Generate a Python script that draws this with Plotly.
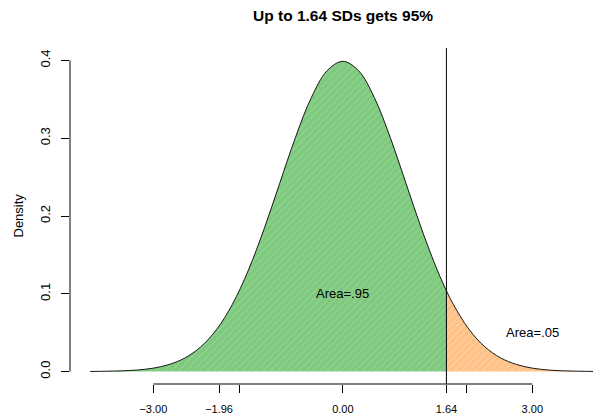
import plotly.graph_objects as go

# Standard normal density
x_vals = [-4.0, -3.75, -3.5, -3.25, -3.0, -2.75, -2.5, -2.25, -2.0, -1.75, -1.5, -1.25,
          -1.0, -0.75, -0.5, -0.25, 0.0, 0.25, 0.5, 0.75, 1.0, 1.25, 1.5, 1.64,
          1.75, 2.0, 2.25, 2.5, 2.75, 3.0, 3.25, 3.5, 3.75, 4.0]
density = [0.0001, 0.0004, 0.0009, 0.0020, 0.0044, 0.0091, 0.0175, 0.0317, 0.0540, 0.0863,
           0.1295, 0.1826, 0.2420, 0.3011, 0.3521, 0.3867, 0.3989, 0.3867, 0.3521, 0.3011,
           0.2420, 0.1826, 0.1295, 0.1040, 0.0863, 0.0540, 0.0317, 0.0175, 0.0091, 0.0044,
           0.0020, 0.0009, 0.0004, 0.0001]
cutoff = 1.64

x_tick_vals = [-3.0, -1.96, -1.64, 0.0, 1.64, 1.96, 3.0]
x_tick_text = ["\u22123.00", "\u22121.96", "", "0.00", "1.64", "", "3.00"]
y_tick_vals = [0.0, 0.1, 0.2, 0.3, 0.4]
y_tick_text = ["0.0", "0.1", "0.2", "0.3", "0.4"]

area_labels = ["Area=.95", "Area=.05"]
area_pos = [(0.0, 0.1), (3.0, 0.05)]

title_text = "Up to 1.64 SDs gets 95%"

GREEN = "#7FC97F"
ORANGE = "#FDC086"
FONT = "Liberation Sans, Arial, Helvetica, sans-serif"

left_x = [x for x in x_vals if x <= cutoff]
left_y = [y for x, y in zip(x_vals, density) if x <= cutoff]
right_x = [x for x in x_vals if x >= cutoff]
right_y = [y for x, y in zip(x_vals, density) if x >= cutoff]

fig = go.Figure()
fig.add_trace(go.Scatter(
    x=left_x, y=left_y, mode="lines", line=dict(width=0, shape="spline", color=GREEN),
    fill="tozeroy", fillcolor=GREEN,
    fillpattern=dict(shape="/", bgcolor=GREEN, fgcolor="#8CD08C", size=5, solidity=0.35, fgopacity=1),
    hoverinfo="skip", showlegend=False))
fig.add_trace(go.Scatter(
    x=right_x, y=right_y, mode="lines", line=dict(width=0, shape="spline", color=ORANGE),
    fill="tozeroy", fillcolor=ORANGE,
    fillpattern=dict(shape="/", bgcolor=ORANGE, fgcolor="#FFCC99", size=5, solidity=0.35, fgopacity=1),
    hoverinfo="skip", showlegend=False))
fig.add_trace(go.Scatter(
    x=x_vals, y=density, mode="lines", line=dict(width=0.9, shape="spline", color="black"),
    hoverinfo="skip", showlegend=False))

# vertical cutoff line
fig.add_shape(type="line", xref="x", yref="paper", x0=cutoff, x1=cutoff, y0=0, y1=1,
              line=dict(color="black", width=1))
# axis lines (R style, spanning tick range only)
fig.add_shape(type="line", xref="x", yref="paper", x0=min(x_tick_vals), x1=max(x_tick_vals), y0=0, y1=0,
              line=dict(color="black", width=1))
fig.add_shape(type="line", xref="paper", yref="y", x0=0, x1=0, y0=min(y_tick_vals), y1=max(y_tick_vals),
              line=dict(color="black", width=1))

for txt, (ax, ay) in zip(area_labels, area_pos):
    fig.add_annotation(x=ax, y=ay, xref="x", yref="y", text=txt, showarrow=False,
                       font=dict(size=13, color="black", family=FONT))

fig.add_annotation(x=0, xref="x", y=1, yref="paper", yshift=33, yanchor="middle",
                   text="<b>" + title_text + "</b>", showarrow=False,
                   font=dict(size=15.5, color="black", family=FONT))
fig.add_annotation(x=0, xref="paper", xshift=-62, y=0.2, yref="y", text="Density",
                   textangle=-90, showarrow=False, font=dict(size=13, color="black", family=FONT))

fig.update_layout(
    width=593, height=414,
    margin=dict(l=70, r=0, t=48, b=30),
    plot_bgcolor="white", paper_bgcolor="white",
    font=dict(family=FONT, color="black"),
    xaxis=dict(range=[-4.32, 3.961], showgrid=False, zeroline=False, showline=False,
               tickmode="array", tickvals=x_tick_vals, ticktext=x_tick_text,
               ticks="outside", ticklen=8, tickwidth=1, tickcolor="black",
               tickfont=dict(size=11, color="black", family=FONT), ticklabelstandoff=7),
    yaxis=dict(range=[-0.016, 0.416], showgrid=False, zeroline=False, showline=False,
               tickmode="array", tickvals=y_tick_vals, ticktext=y_tick_text,
               ticks="outside", ticklen=8, tickwidth=1, tickcolor="black", tickangle=-90,
               tickfont=dict(size=13, color="black", family=FONT), ticklabelstandoff=6),
)

fig.write_html("out.html", config={"displayModeBar": False},
               post_script="document.body.style.margin='0';document.body.style.overflow='hidden';")
